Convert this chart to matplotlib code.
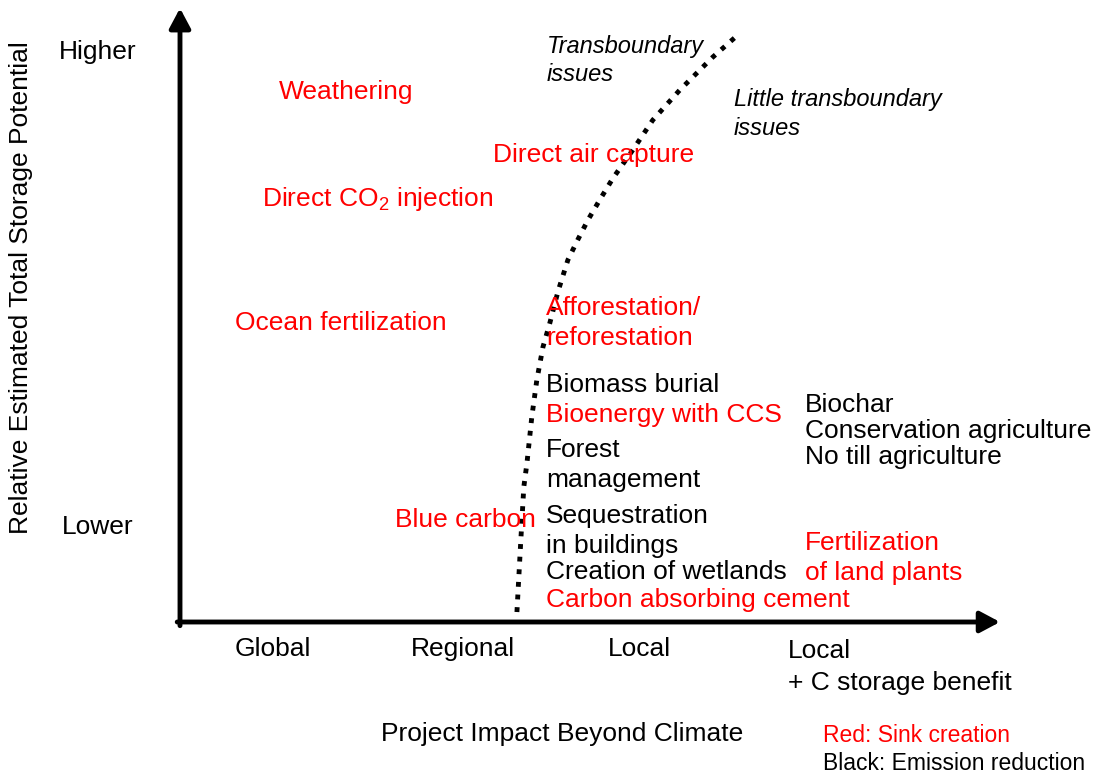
import numpy as np
import matplotlib
matplotlib.use("Agg")
import matplotlib.pyplot as plt

plt.rcParams['font.family'] = ['Liberation Sans', 'DejaVu Sans']
plt.rcParams['mathtext.fontset'] = 'custom'
plt.rcParams['mathtext.rm'] = 'Liberation Sans'
plt.rcParams['mathtext.it'] = 'Liberation Sans:italic'

# x: 1=Global, 2=Regional, 3=Local, 4=Local + C storage benefit ; y: 0 (bottom) .. 10 (top)
x_labels = ["Global", "Regional", "Local"]
x_label_pos = [1.0, 2.02, 2.97]
y_labels = ["Higher", "Lower"]
y_label_pos = [9.31, 1.55]

methods = ["Weathering", "Direct air capture", "Direct CO$_2$ injection",
           "Ocean fertilization", "Afforestation/\nreforestation", "Biomass burial",
           "Bioenergy with CCS", "Forest\nmanagement", "Sequestration\nin buildings",
           "Creation of wetlands", "Carbon absorbing cement", "Blue carbon",
           "Biochar\nConservation agriculture\nNo till agriculture",
           "Fertilization\nof land plants"]
method_x = [1.032, 2.183, 0.941, 0.796, 2.468, 2.468, 2.468, 2.468, 2.468,
            2.468, 2.468, 1.656, 3.86, 3.86]
method_y = [8.66, 7.63, 6.91, 4.89, 4.89, 3.87, 3.38, 2.57, 1.48,
            0.82, 0.36, 1.67, 3.12, 1.05]
method_red = [1, 1, 1, 1, 1, 0, 1, 0, 0, 0, 1, 1, 0, 1]

# transboundary boundary curve
curve_x = [2.312, 2.333, 2.349, 2.366, 2.392, 2.419, 2.452, 2.489, 2.532,
           2.586, 2.640, 2.694, 2.758, 2.828, 2.935, 3.043, 3.188, 3.366, 3.500]
curve_y = [0.163, 1.340, 2.206, 2.598, 3.350, 3.954, 4.493, 4.886, 5.392,
           5.915, 6.250, 6.569, 6.900, 7.250, 7.712, 8.203, 8.693, 9.232, 9.592]

fig = plt.figure(figsize=(10.96, 7.76), dpi=100)
ax = fig.add_axes([180/1096, 154/776, 820/1096, 612/776])
ax.set_xlim(0.5, 4.91)
ax.set_ylim(0, 10)
ax.axis('off')

fs = 19
red = '#ff0000'

# axes with arrows
arrow = dict(arrowstyle='-|>,head_length=0.6,head_width=0.32', lw=3.5, color='k',
             shrinkA=0, shrinkB=0, mutation_scale=20)
ax.annotate('', xy=(4.91, 0), xytext=(0.485, 0), arrowprops=arrow, annotation_clip=False)
ax.annotate('', xy=(0.5, 10.03), xytext=(0.5, -0.06), arrowprops=arrow, annotation_clip=False)

ax.plot(curve_x, curve_y, color='k', lw=3.5, linestyle=(0, (1, 1.6)), clip_on=False)

for lab, xv in zip(x_labels, x_label_pos):
    ax.text(xv, -0.44, lab, fontsize=fs, ha='center', va='center', clip_on=False)
ax.text(3.77, -0.735, "Local\n+ C storage benefit", fontsize=fs, ha='left', va='center',
        linespacing=1.4, clip_on=False)

for lab, yv in zip(y_labels, y_label_pos):
    ax.text(0.055, yv, lab, fontsize=fs, ha='center', va='center', clip_on=False)

for lab, xv, yv, r in zip(methods, method_x, method_y, method_red):
    ls = 1.1 if lab.startswith("Biochar") else 1.32
    ax.text(xv, yv, lab, fontsize=fs, color=red if r else 'k', ha='left', va='center',
            linespacing=ls, clip_on=False)

ax.text(2.473, 9.17, "Transboundary\nissues", fontsize=17, style='italic',
        ha='left', va='center', linespacing=1.3)
ax.text(3.478, 8.30, "Little transboundary\nissues", fontsize=17, style='italic',
        ha='left', va='center', linespacing=1.3)

ax.text(2.554, -1.83, "Project Impact Beyond Climate", fontsize=fs, ha='center',
        va='center', clip_on=False)
ax.text(-0.355, 5.47, "Relative Estimated Total Storage Potential", fontsize=fs,
        rotation=90, ha='center', va='center', clip_on=False)

ax.text(3.957, -1.85, "Red: Sink creation", fontsize=16.5, color=red, ha='left',
        va='center', clip_on=False)
ax.text(3.957, -2.32, "Black: Emission reduction", fontsize=16.5, ha='left',
        va='center', clip_on=False)

fig.savefig("out.png", dpi=100, facecolor='white')
